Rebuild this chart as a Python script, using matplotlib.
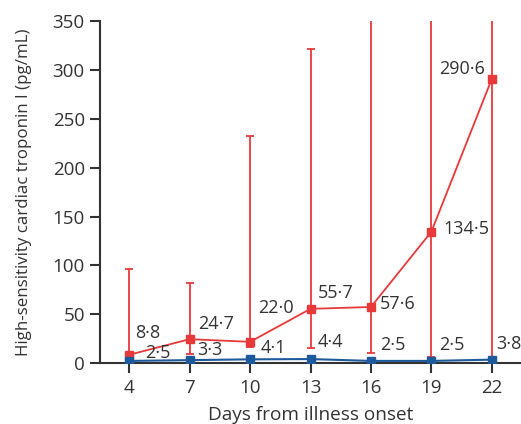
import numpy as np
import matplotlib.pyplot as plt

plt.rcParams['font.family'] = ['Open Sans', 'DejaVu Sans']

days = [4, 7, 10, 13, 16, 19, 22]
red_vals = [8.8, 24.7, 22.0, 55.7, 57.6, 134.5, 290.6]
red_low = [8.8, 10, 17, 15.5, 10.5, 7, 7]
red_high = [96, 82, 232, 321, 500, 500, 500]
blue_vals = [2.5, 3.3, 4.1, 4.4, 2.5, 2.5, 3.8]

red_labels = ['8\u00b78', '24\u00b77', '22\u00b70', '55\u00b77', '57\u00b76', '134\u00b75', '290\u00b76']
blue_labels = ['2\u00b75', '3\u00b73', '4\u00b71', '4\u00b74', '2\u00b75', '2\u00b75', '3\u00b78']

# label anchor positions (day, value)
red_lab_pos = [(4.3, 31), (7.4, 40), (10.4, 57), (13.35, 72), (16.45, 61), (19.6, 137), (21.65, 301)]
blue_lab_pos = [(4.8, 11), (7.4, 13.5), (10.5, 16), (13.35, 22), (16.45, 18.5), (19.4, 18.5), (22.22, 19.5)]

red = '#e8393a'
blue = '#1d5a9c'
dark = '#333333'

fig = plt.figure(figsize=(5.21, 4.24), dpi=100)
ax = fig.add_axes([0.192, 0.143, 0.808, 0.808])

yerr = [np.array(red_vals) - np.array(red_low), np.array(red_high) - np.array(red_vals)]
ax.errorbar(days, red_vals, yerr=yerr, color=red, marker='s', markersize=5.4,
            linewidth=1.3, elinewidth=1.3, capsize=3, capthick=1.3, zorder=2)
ax.plot(days, blue_vals, color=blue, marker='s', markersize=5.4, linewidth=1.5, zorder=3)

for lab, (x, y) in zip(red_labels, red_lab_pos):
    ha = 'right' if lab == '290\u00b76' else 'left'
    ax.text(x, y, lab, ha=ha, va='center', fontsize=13, color=dark)
for lab, (x, y) in zip(blue_labels, blue_lab_pos):
    ax.text(x, y, lab, ha='left', va='center', fontsize=13, color=dark, clip_on=False)

ax.set_xlim(2.55, 23.45)
ax.set_ylim(0, 350)
ax.set_xticks(days)
ax.set_yticks(range(0, 351, 50))
ax.spines['top'].set_visible(False)
ax.spines['right'].set_visible(False)
for s in ['left', 'bottom']:
    ax.spines[s].set_linewidth(1.5)
    ax.spines[s].set_color(dark)
ax.tick_params(length=7.5, width=1.5, color=dark, labelsize=13.5, labelcolor=dark, pad=3.5)
ax.set_xlabel('Days from illness onset', fontsize=13.7, color=dark, labelpad=7)
ax.set_ylabel('High-sensitivity cardiac troponin I (pg/mL)', fontsize=12.2, color=dark)
ax.yaxis.set_label_coords(-0.162, 0.5)

fig.savefig('out.png', dpi=100)
